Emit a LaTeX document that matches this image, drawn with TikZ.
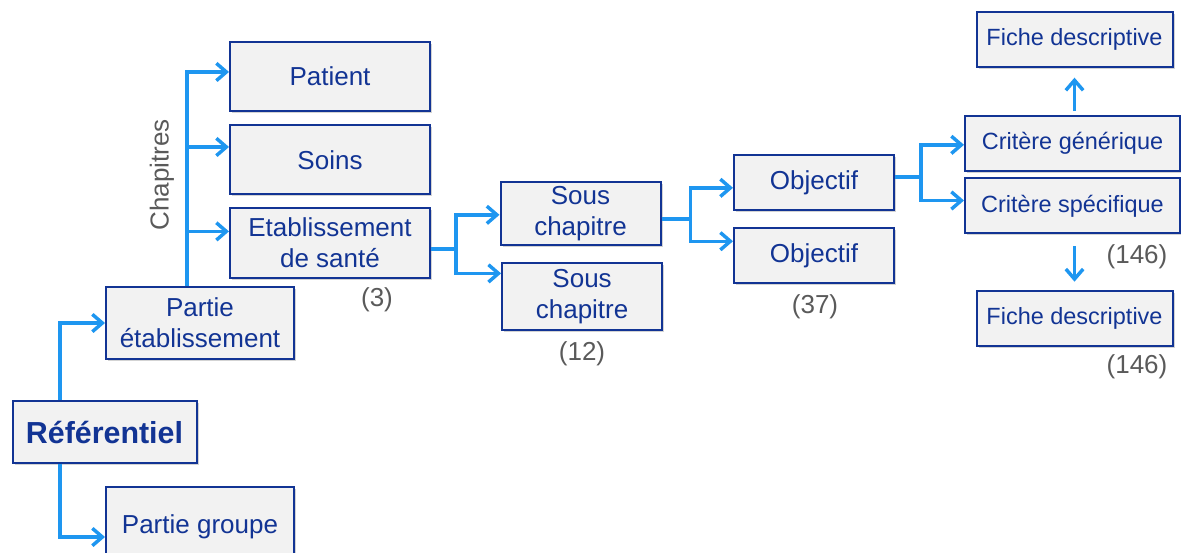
\documentclass[tikz,border=0pt]{standalone}
\usepackage{fontspec}
\setmainfont{Liberation Sans}
\usepackage{tikz}
\usetikzlibrary{arrows.meta,positioning,shapes,shadows}
\definecolor{boxblue}{RGB}{18,52,148}
\definecolor{linkblue}{RGB}{30,150,240}
\definecolor{boxgray}{RGB}{242,242,242}
\definecolor{numgray}{RGB}{90,90,90}

\begin{document}
\begin{tikzpicture}[x=0.75pt,y=-0.75pt,node distance=10pt,>={Straight Barb[length=7.5pt,width=13pt]}]
	\tikzstyle{rect}=[draw=boxblue, line width=1.5pt, fill=boxgray, rectangle, text=boxblue, align=center, inner sep=1.5pt, font=\fontsize{19.5}{23.5}\selectfont, drop shadow={shadow xshift=1.5pt,shadow yshift=-1.5pt,opacity=0.35}]
	\tikzstyle{rect_s}=[rect, font=\fontsize{17.6}{21}\selectfont]
	\tikzstyle{num}=[text=numgray, font=\fontsize{19.5}{23.5}\selectfont]
	\tikzstyle{link}=[->, draw=linkblue, line width=2.6pt]

	\useasboundingbox (0,0) rectangle (1181,553);

	\node[rect, minimum width=138pt, minimum height=46.5pt, font=\bfseries\fontsize{22.8}{27}\selectfont] (ref) at (104.5,432) {Référentiel};
	\node[rect, minimum width=141pt, minimum height=54pt] (petab) at (200,323) {Partie\\établissement};
	\node[rect, minimum width=141pt, minimum height=60pt] (pgroupe) at (200,527) {Partie groupe};

	\node[rect, minimum width=150pt, minimum height=51.75pt] (patient) at (330,76.5) {Patient};
	\node[rect, minimum width=150pt, minimum height=51.75pt] (soins) [below=9.3pt of patient] {Soins};
	\node[rect, minimum width=150pt, minimum height=52.5pt] (etab) [below=8.6pt of soins] {Etablissement\\de santé};
	\node[num, rotate=90] (chap) at (162,175) {Chapitres};
	\node[num] (n3) at (377,300) {(3)};

	\node[rect, minimum width=120pt, minimum height=47.25pt] (sc1) at (580.5,213.5) {Sous\\chapitre};
	\node[rect, minimum width=120pt, minimum height=50pt] (sc2) [below=12.3pt of sc1, xshift=1.2pt] {Sous\\chapitre};
	\node[num] (n12) at (582,354) {(12)};

	\node[rect, minimum width=120pt, minimum height=41.25pt] (obj1) at (814,182.5) {Objectif};
	\node[rect, minimum width=120pt, minimum height=41.25pt] (obj2) [below=12.3pt of obj1] {Objectif};
	\node[num] (n37) at (815,307) {(37)};

	\node[rect_s, minimum width=161.25pt, minimum height=41.25pt] (cgen) at (1072.5,143.5) {Critère générique};
	\node[rect_s, minimum width=161.25pt, minimum height=41.25pt] (cspec) [below=4pt of cgen] {Critère spécifique};
	\node[rect_s, minimum width=147pt, minimum height=41.25pt] (fiche1) [above=35.5pt of cgen, xshift=1.5pt] {Fiche descriptive};
	\node[rect_s, minimum width=147pt, minimum height=41.25pt] (fiche2) [below=41.5pt of cspec, xshift=1.5pt] {Fiche descriptive};
	\node[num] (n146a) at (1137,257) {(146)};
	\node[num] (n146b) at (1137,367) {(146)};

	\draw[link] ([xshift=-33.4pt]ref.north) |- (petab.west);
	\draw[link] ([xshift=-33.4pt]ref.south) |- ([yshift=-7.5pt]pgroupe.west);
	\draw[link] ([xshift=-9.75pt]petab.north) |- ([yshift=3.4pt]patient.west);
	\draw[link] ([xshift=-9.75pt]petab.north) |- ([yshift=9.7pt]soins.west);
	\draw[link] ([xshift=-9.75pt]petab.north) |- ([yshift=8.6pt]etab.west);
	\draw[link] ([yshift=-4.5pt]etab.east) -- ++(18.75pt,0) |- ([yshift=-1pt]sc1.west);
	\draw[link] ([yshift=-4.5pt]etab.east) -- ++(18.75pt,0) |- ([yshift=17.5pt]sc2.west);
	\draw[link] ([yshift=-4pt]sc1.east) -- ++(21.75pt,0) |- ([yshift=-4pt]obj1.west);
	\draw[link] ([yshift=-4pt]sc1.east) -- ++(21.75pt,0) |- ([yshift=11pt]obj2.west);
	\draw[link] ([yshift=4pt]obj1.east) -- ++(19.5pt,0) |- ([yshift=-1pt]cgen.west);
	\draw[link] ([yshift=4pt]obj1.east) -- ++(19.5pt,0) |- ([yshift=4pt]cspec.west);
	\draw[link] ([xshift=1.5pt,yshift=3pt]cgen.north) -- ([yshift=-7.5pt]fiche1.south);
	\draw[link] ([xshift=1.5pt,yshift=-9pt]cspec.south) -- ([yshift=6pt]fiche2.north);
\end{tikzpicture}
\end{document}
